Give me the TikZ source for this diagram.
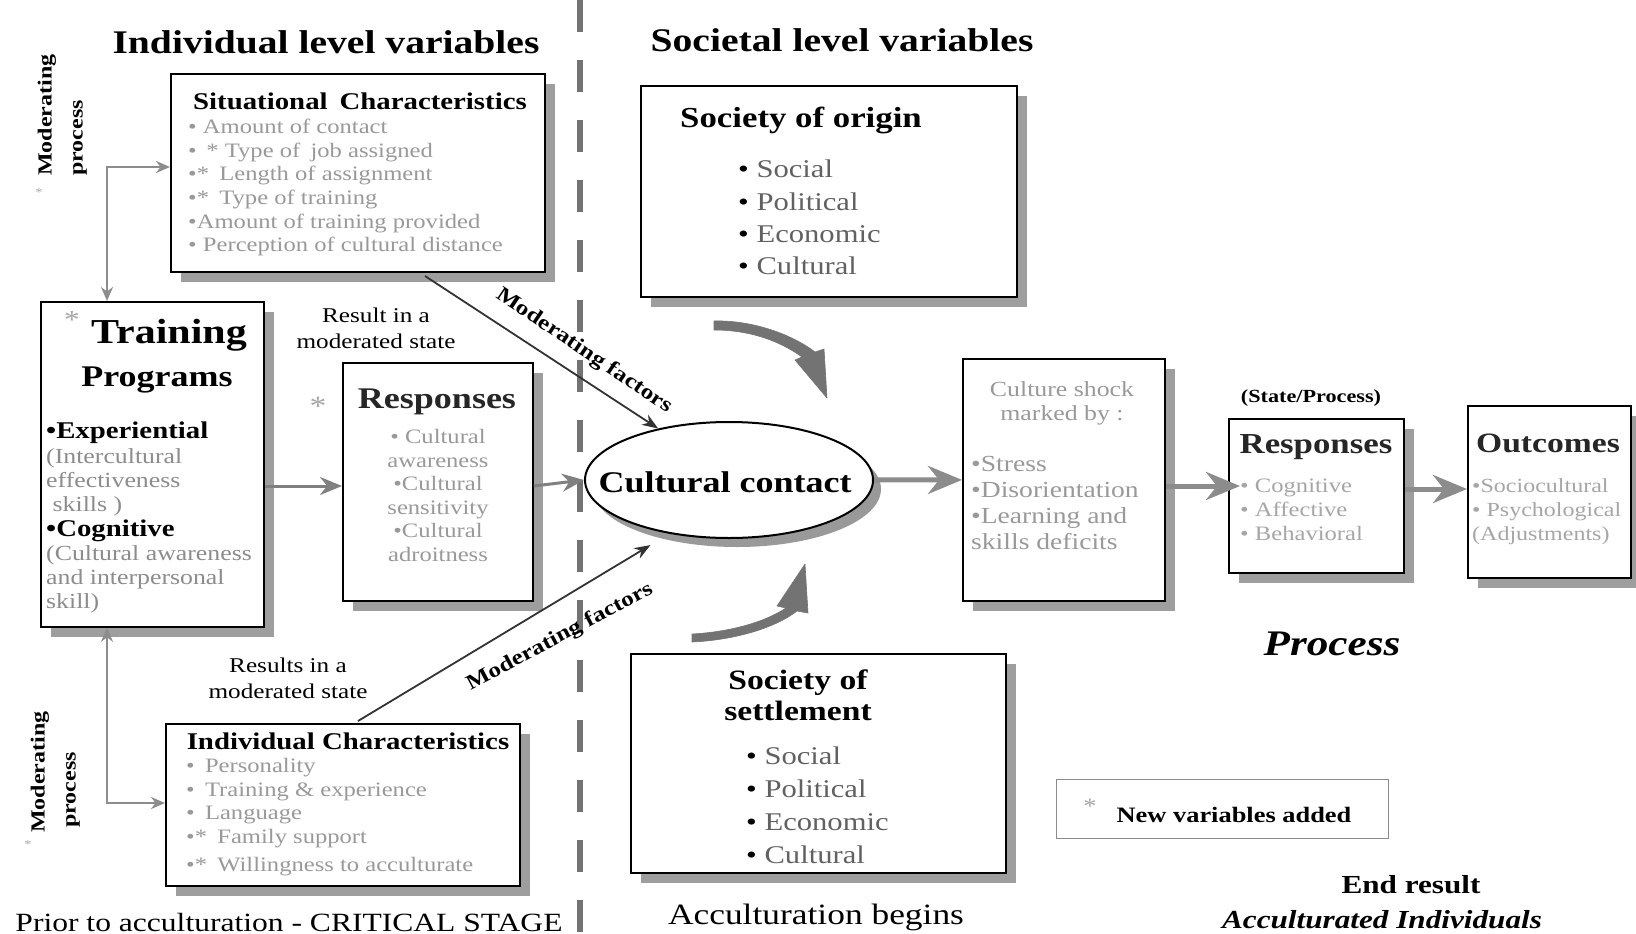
\documentclass[tikz,border=0pt]{standalone}
\usepackage{fontspec}
\setmainfont{Liberation Serif}[FakeStretch=1.2]
\usetikzlibrary{shapes.geometric,arrows.meta,shadows,calc}
\newcommand\setfs[2]{\fontsize{#1}{#2}\selectfont}
\begin{document}
\begin{tikzpicture}[x=1pt,y=-1pt,
  box/.style={draw=black, line width=1.8pt, fill=white, inner sep=0pt, anchor=north west,
    drop shadow={shadow xshift=10pt, shadow yshift=-10pt, fill=black!38, opacity=1}},
  lbl/.style={inner sep=0pt},
  head/.style={lbl, font=\bfseries\setfs{24}{26}},
  faint/.style={lbl, text=black!40},
  star/.style={lbl, text=black!35},
  divider/.style={draw=black!55, line width=6pt, dash pattern=on 32pt off 28pt},
  conn/.style={draw=black!45, line width=2.4pt, arrows={Stealth[length=14pt,width=12pt]-Stealth[length=14pt,width=12pt]}},
  flow/.style={draw=black!50, line width=3pt, arrows={-Stealth[length=22pt,width=18pt]}},
  bigflow/.style={draw=black!45, line width=5pt, arrows={-Stealth[length=34pt,width=28pt]}},
  modarrow/.style={draw=black!80, line width=1.8pt, arrows={-Stealth[length=16pt,width=12pt]}},
  curvearrow/.style={fill=black!55, draw=black!55, line width=0.6pt, line join=round}
]
\useasboundingbox (0,0) rectangle (1636,934);
\fill[white] (0,0) rectangle (1636,934);

% dividing line between individual and societal levels
\coordinate (dtop) at (580,0);
\coordinate (dbot) at (580,934);
\draw[divider] (dtop) -- (dbot);

% column headings
\node[lbl, font=\bfseries\setfs{33}{36}] (tind) at (326,42) {Individual level variables};
\node[lbl, font=\bfseries\setfs{33}{36}] (tsoc) at (842,40) {Societal level variables};

% side labels
\node[lbl, rotate=90, font=\bfseries\setfs{20}{22}] (mp1a) at (47,115) {Moderating};
\node[lbl, rotate=90, font=\bfseries\setfs{20}{22}] (mp1b) at (80,138) {process};
\node[star, font=\setfs{12}{12}] (mp1s) at (39,193) {*};
\node[lbl, rotate=90, font=\bfseries\setfs{20}{22}] (mp2a) at (40,772) {Moderating};
\node[lbl, rotate=90, font=\bfseries\setfs{20}{22}] (mp2b) at (73,790) {process};
\node[star, font=\setfs{12}{12}] (mp2s) at (28,845) {*};

% ---------- boxes ----------
\node[box, minimum width=374pt, minimum height=198pt] (sit) at (170,73) {};
\node[box, minimum width=223pt, minimum height=325pt] (train) at (40,301) {};
\node[box, minimum width=190pt, minimum height=238pt] (resL) at (342,362) {};
\node[box, minimum width=354pt, minimum height=162pt] (indiv) at (165,723) {};
\node[box, minimum width=376pt, minimum height=211pt] (origin) at (640,85) {};
\node[box, minimum width=375pt, minimum height=219pt] (settle) at (630,653) {};
\node[box, minimum width=202pt, minimum height=242pt] (shock) at (962,358) {};
\node[box, minimum width=175pt, minimum height=154pt] (resR) at (1228,418) {};
\node[box, minimum width=163pt, minimum height=172pt] (outc) at (1467,405) {};
\node[draw=black!45, line width=1.2pt, inner sep=0pt, anchor=north west,
      minimum width=332pt, minimum height=59pt] (newvar) at (1056,779) {};

% cultural contact ellipse with its shadow
\fill[black!40] (737,489) ellipse [x radius=144, y radius=58];
\node[ellipse, draw=black, line width=2pt, fill=white, inner sep=0pt,
      minimum width=288pt, minimum height=116pt] (cc) at (729,480) {};
\node[lbl, font=\bfseries\setfs{30}{32}] (cctxt) at (725,482) {Cultural contact};

% ---------- situational characteristics ----------
\node[head] (sittitle) at (360,101) {Situational\enspace Characteristics};
\node[faint, anchor=north west, align=left, font=\setfs{20.5}{23.6}] (sititems) at (188,119)
  {• Amount of contact\\• \,* Type of\enspace job assigned\\•*\enspace Length of assignment\\•*\enspace Type of training\\•Amount of training provided\\• Perception of cultural distance};

% ---------- training programs ----------
\node[star, font=\setfs{26}{26}] (trstar) at (72,320) {*};
\node[lbl, font=\bfseries\setfs{35}{38}] (trtitle1) at (169,335) {Training};
\node[lbl, font=\bfseries\setfs{30}{33}] (trtitle2) at (157,380) {Programs};
\node[lbl, anchor=north west, align=left, font=\setfs{21.5}{24.3}, text=black!45] (tritems) at (46,422)
  {{\bfseries\setfs{24}{24.3}\color{black}•Experiential}\\(Intercultural\\effectiveness\\\ skills )\\{\bfseries\setfs{24}{24.3}\color{black}•Cognitive}\\(Cultural awareness\\and interpersonal\\skill)};

% ---------- responses (left) ----------
\node[star, font=\setfs{28}{28}] (rlstar) at (318,406) {*};
\node[lbl, font=\bfseries\setfs{30}{32}, text=black!85] (rltitle) at (437,402) {Responses};
\node[faint, anchor=north, align=center, font=\setfs{20.5}{23.6}] (rlitems) at (438,429)
  {• Cultural\\awareness\\•Cultural\\sensitivity\\•Cultural\\adroitness};
\node[lbl, align=center, font=\setfs{21}{26}] (res1) at (376,328) {Result in a\\moderated state};
\node[lbl, align=center, font=\setfs{21}{26}] (res2) at (288,678) {Results in a\\moderated state};

% ---------- individual characteristics ----------
\node[head] (indtitle) at (348,741) {Individual Characteristics};
\node[faint, anchor=north west, align=left, font=\setfs{20.5}{23.7}] (inditems) at (186,758)
  {•\enspace Personality\\•\enspace Training \& experience\\•\enspace Language\\•*\enspace Family support\\[4pt]•*\enspace Willingness to acculturate};

\node[lbl, font=\setfs{26.3}{28}] (prior) at (289,922) {Prior to acculturation - CRITICAL STAGE};

% ---------- societies ----------
\node[lbl, font=\bfseries\setfs{29}{31}] (origtitle) at (801,120) {Society of origin};
\node[lbl, anchor=north west, align=left, font=\setfs{25.5}{32.3}, text=black!62] (origitems) at (738,160)
  {{\color{black}•} Social\\{\color{black}•} Political\\{\color{black}•} Economic\\{\color{black}•} Cultural};
\node[lbl, align=center, font=\bfseries\setfs{28}{31}] (settitle) at (798,695) {Society of\\settlement};
\node[lbl, anchor=north west, align=left, font=\setfs{25.5}{32.7}, text=black!62] (setitems) at (746,747)
  {{\color{black}•} Social\\{\color{black}•} Political\\{\color{black}•} Economic\\{\color{black}•} Cultural};
\node[lbl, font=\setfs{29.5}{31}] (accbeg) at (816,917) {Acculturation begins};

% ---------- process chain ----------
\node[faint, align=center, font=\setfs{21.5}{24}] (shocktitle) at (1062,403) {Culture shock\\marked by :};
\node[faint, anchor=north west, align=left, font=\setfs{23}{26}] (shockitems) at (971,456)
  {•Stress\\•Disorientation\\•Learning and\\skills deficits};

\node[lbl, font=\bfseries\setfs{18.5}{20}] (stproc) at (1311,398) {(State/Process)};
\node[lbl, font=\bfseries\setfs{29}{31}, text=black!85] (rrtitle) at (1316,447) {Responses};
\node[faint, anchor=north west, align=left, font=\setfs{20.5}{24}, text=black!35] (rritems) at (1240,479)
  {• Cognitive\\• Affective\\• Behavioral};

\node[lbl, font=\bfseries\setfs{28}{30}, text=black!85] (outtitle) at (1548,443) {Outcomes};
\node[faint, anchor=north west, align=left, font=\setfs{20}{24}, text=black!35] (outitems) at (1472,478)
  {•Sociocultural\\• Psychological\\(Adjustments)};

\node[lbl, font=\bfseries\itshape\setfs{36}{38}] (proc) at (1332,644) {Process};

\node[star, font=\setfs{22}{22}] (nvstar) at (1090,806) {*};
\node[lbl, font=\bfseries\setfs{22}{24}] (nvtext) at (1234,815) {New variables added};

\node[lbl, font=\bfseries\setfs{26}{28}] (endres) at (1411,885) {End result};
\node[lbl, font=\bfseries\itshape\setfs{26}{28}] (accind) at (1382,920) {Acculturated Individuals};

% ---------- connectors ----------
\coordinate (ct) at (107,167);
\coordinate (cb) at (107,803);
\draw[conn] (train.north -| ct) -- (ct) -- (sit.west |- ct);
\draw[conn] (train.south -| cb) -- (cb) -- (indiv.west |- cb);

\coordinate (yl) at (0,486);
\draw[flow] (train.east |- yl) -- (resL.west |- yl);
\draw[flow] (resL.east |- yl) -- (cc.west);

\coordinate (m1) at (425,276);
\coordinate (m2) at (358,721);
\draw[modarrow] (m1) -- (cc.144);
\draw[modarrow, shorten >=22pt] (m2) -- (cc.222);
\node[lbl, rotate=-34, font=\bfseries\setfs{21}{23}] (mf1) at (584,351) {Moderating factors};
\node[lbl, rotate=28, font=\bfseries\setfs{21}{23}] (mf2) at (560,637) {Moderating factors};

% influence of the two societies on the contact (tapered curved arrows)
\fill[curvearrow] (714,321) .. controls (750,320) and (790,333) .. (815,352) -- (824,349) -- (827,398)
  -- (795,360) -- (802,357) .. controls (780,341) and (750,330) .. (714,330) -- cycle;
\fill[curvearrow] (692,642) .. controls (735,640) and (775,628) .. (797,611) -- (808,613) -- (805,564)
  -- (777,606) -- (786,608) .. controls (765,622) and (730,632) .. (692,634) -- cycle;

\draw[bigflow] (cc.east) -- (shock.west);
\coordinate (yr1) at (0,486);
\coordinate (yr2) at (0,489);
\draw[bigflow, shorten >=-12pt] (shock.east |- yr1) -- (resR.west |- yr1);
\draw[bigflow] (resR.east |- yr2) -- (outc.west |- yr2);
\end{tikzpicture}
\end{document}
